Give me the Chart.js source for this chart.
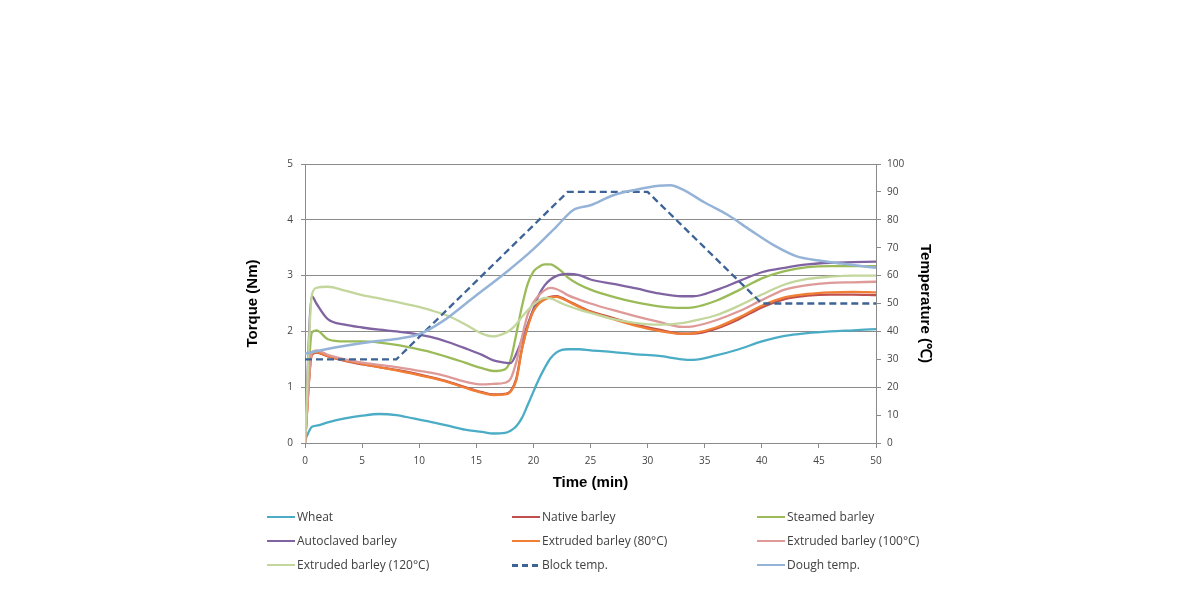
<!DOCTYPE html>
<html>
<head>
<meta charset="utf-8">
<script src="https://cdn.jsdelivr.net/npm/chart.js@4.4.1/dist/chart.umd.min.js"></script>
<style>
  html, body { margin: 0; padding: 0; background: #ffffff; }
  #wrap { position: relative; width: 1190px; height: 589px; overflow: hidden; }
  #c { position: absolute; left: 0; top: 0; }
  .lg { position: absolute; font-family: "Open Sans", "DejaVu Sans", sans-serif; font-size: 12px; color: #404040; white-space: nowrap; line-height: 16px; }
  .lg .ln { position: absolute; left: 0; top: 7px; width: 28px; height: 0; border-top: 2.5px solid; }
  .lg .tx { position: absolute; left: 30px; top: 0; }
</style>
</head>
<body>
<div id="wrap">
  <canvas id="c" width="1190" height="589"></canvas>
  <div id="legend"></div>
</div>
<script>
// ---------- data ----------
const times = [0, 0.6, 1, 2, 3.5, 5, 6.5, 8, 9.5, 11, 12.5, 14, 15.5, 16.5, 17.5, 18, 18.5, 19, 19.5, 20, 20.5, 21, 21.5, 22, 22.5, 23, 24, 25, 27, 29, 31, 33, 34, 36, 38, 40, 42, 44, 46, 48, 50];

const wheat      = [0.05, 0.29, 0.31, 0.37, 0.44, 0.49, 0.52, 0.50, 0.44, 0.38, 0.31, 0.24, 0.20, 0.17, 0.18, 0.22, 0.30, 0.45, 0.68, 0.92, 1.15, 1.35, 1.52, 1.62, 1.67, 1.68, 1.68, 1.66, 1.63, 1.59, 1.56, 1.50, 1.49, 1.57, 1.68, 1.82, 1.92, 1.97, 2.00, 2.02, 2.04];
const native     = [0.00, 1.58, 1.62, 1.55, 1.47, 1.41, 1.36, 1.31, 1.25, 1.18, 1.10, 1.00, 0.91, 0.87, 0.88, 0.93, 1.15, 1.70, 2.10, 2.38, 2.52, 2.58, 2.62, 2.63, 2.60, 2.55, 2.45, 2.36, 2.24, 2.12, 2.03, 1.96, 1.96, 2.05, 2.22, 2.43, 2.58, 2.64, 2.66, 2.66, 2.65];
const steamed    = [0.00, 1.98, 2.02, 1.86, 1.82, 1.82, 1.80, 1.76, 1.70, 1.63, 1.54, 1.44, 1.34, 1.29, 1.32, 1.49, 1.95, 2.45, 2.85, 3.07, 3.16, 3.20, 3.20, 3.15, 3.07, 2.97, 2.84, 2.75, 2.62, 2.52, 2.45, 2.42, 2.43, 2.55, 2.74, 2.95, 3.08, 3.15, 3.17, 3.17, 3.17];
const autoclaved = [0.00, 2.63, 2.50, 2.22, 2.12, 2.07, 2.03, 2.00, 1.96, 1.90, 1.81, 1.70, 1.58, 1.48, 1.44, 1.43, 1.60, 1.85, 2.12, 2.40, 2.66, 2.83, 2.93, 2.99, 3.02, 3.03, 3.01, 2.93, 2.85, 2.77, 2.68, 2.63, 2.63, 2.74, 2.90, 3.06, 3.14, 3.20, 3.23, 3.24, 3.25];
const extr80     = [0.00, 1.60, 1.63, 1.56, 1.48, 1.42, 1.36, 1.30, 1.24, 1.17, 1.09, 0.99, 0.90, 0.86, 0.87, 0.92, 1.12, 1.68, 2.08, 2.36, 2.50, 2.57, 2.61, 2.62, 2.59, 2.54, 2.44, 2.35, 2.22, 2.10, 2.01, 1.96, 1.97, 2.07, 2.25, 2.46, 2.61, 2.67, 2.70, 2.71, 2.70];
const extr100    = [0.00, 1.62, 1.66, 1.58, 1.50, 1.44, 1.40, 1.36, 1.31, 1.26, 1.19, 1.10, 1.05, 1.06, 1.08, 1.15, 1.45, 1.90, 2.30, 2.52, 2.65, 2.74, 2.78, 2.76, 2.71, 2.65, 2.57, 2.50, 2.38, 2.27, 2.17, 2.08, 2.09, 2.20, 2.36, 2.56, 2.75, 2.83, 2.87, 2.88, 2.89];
const extr120    = [0.00, 2.65, 2.78, 2.80, 2.73, 2.65, 2.59, 2.53, 2.46, 2.38, 2.28, 2.13, 1.96, 1.91, 1.97, 2.03, 2.13, 2.26, 2.38, 2.48, 2.56, 2.60, 2.59, 2.55, 2.50, 2.46, 2.39, 2.33, 2.22, 2.15, 2.12, 2.15, 2.19, 2.29, 2.46, 2.66, 2.84, 2.94, 2.98, 3.00, 3.00];

const blockTimes = [0, 8, 23, 30, 40, 50];
const blockTemp  = [30, 30, 90, 90, 50, 50];

const doughTimes = [0, 3, 6, 8, 10, 12, 14.7, 17.7, 20, 22, 23.5, 25, 27, 29, 31, 32, 33, 35, 37, 39, 41, 43, 45, 47, 50];
const doughTemp  = [32, 34.5, 36.4, 37.3, 39, 43.5, 52, 61.5, 69.5, 77.5, 83.5, 85.2, 88.8, 90.8, 92.2, 92.4, 91, 86.2, 81.8, 76.3, 71, 67, 65.4, 64.3, 62.8];

const timeTicks   = [0, 5, 10, 15, 20, 25, 30, 35, 40, 45, 50];
const torqueTicks = [0, 1, 2, 3, 4, 5];
const tempTicks   = [0, 10, 20, 30, 40, 50, 60, 70, 80, 90, 100];

const labels = ["Wheat", "Native barley", "Steamed barley", "Autoclaved barley", "Extruded barley (80°C)", "Extruded barley (100°C)", "Extruded barley (120°C)", "Block temp.", "Dough temp."];
const colors = ["#4bacc6", "#c0504d", "#9bbb59", "#8064a2", "#f07f35", "#dd9a98", "#c3d69b", "#3d6396", "#95b3d7"];

// ---------- build ----------
function pts(xs, ys) { return xs.map((x, i) => ({ x: x, y: ys[i] })); }
const torqueSeries = [wheat, native, steamed, autoclaved, extr80, extr100, extr120];

const datasets = torqueSeries.map((s, i) => ({
  label: labels[i],
  data: pts(times, s),
  borderColor: colors[i],
  borderWidth: 2.3,
  pointRadius: 0,
  cubicInterpolationMode: 'monotone',
  yAxisID: 'y',
  order: 20 - i
}));
datasets.push({
  label: labels[7], data: pts(blockTimes, blockTemp), borderColor: colors[7], borderWidth: 2.3,
  borderDash: [7, 4], pointRadius: 0, tension: 0, yAxisID: 'y2', order: 2
});
datasets.push({
  label: labels[8], data: pts(doughTimes, doughTemp), borderColor: colors[8], borderWidth: 2.5,
  pointRadius: 0, cubicInterpolationMode: 'monotone', yAxisID: 'y2', order: 1
});

const GRID = '#8a8a8a';
const tickFont = { family: '"Open Sans", "DejaVu Sans", sans-serif', size: 10 };
const titleFont = { family: '"Liberation Sans", Arial, sans-serif', size: 15, weight: 'bold', lineHeight: 1.2 };

new Chart(document.getElementById('c'), {
  type: 'line',
  data: { datasets },
  options: {
    responsive: false,
    animation: false,
    events: [],
    layout: { padding: { left: 244, right: 256, top: 164, bottom: 97 } },
    plugins: { legend: { display: false }, tooltip: { enabled: false } },
    scales: {
      x: {
        type: 'linear', min: 0, max: 50,
        afterBuildTicks: (s) => { s.ticks = timeTicks.map(v => ({ value: v })); },
        afterFit: (s) => { s.height = 49; },
        ticks: { font: tickFont, color: '#444444', padding: 7, maxRotation: 0 },
        grid: { drawOnChartArea: false, drawTicks: true, tickLength: 5, color: GRID },
        border: { display: true, color: GRID },
        title: { display: true, text: 'Time (min)', font: titleFont, color: '#000000', padding: { top: 0, bottom: 0 } }
      },
      y: {
        position: 'left', min: 0, max: 5,
        afterBuildTicks: (s) => { s.ticks = torqueTicks.map(v => ({ value: v })); },
        afterFit: (s) => { s.width = 61; },
        ticks: { font: tickFont, color: '#444444', padding: 8 },
        grid: { drawOnChartArea: true, drawTicks: true, tickLength: 4, color: GRID },
        border: { display: true, color: GRID },
        title: { display: true, text: 'Torque (Nm)', font: titleFont, color: '#000000', padding: { top: 0, bottom: 0 } }
      },
      y2: {
        position: 'right', min: 0, max: 100,
        afterBuildTicks: (s) => { s.ticks = tempTicks.map(v => ({ value: v })); },
        afterFit: (s) => { s.width = 58; },
        ticks: { font: tickFont, color: '#444444', padding: 6 },
        grid: { drawOnChartArea: false, drawTicks: true, tickLength: 5, color: GRID },
        border: { display: true, color: GRID },
        title: { display: true, text: 'Temperature (℃)', font: titleFont, color: '#000000', padding: { top: 0, bottom: 0 } }
      }
    }
  }
});

// ---------- legend (HTML text) ----------
const colX = [267, 512, 757];
const rowY = [509, 533, 557];
const lg = document.getElementById('legend');
labels.forEach((lab, i) => {
  const d = document.createElement('div');
  d.className = 'lg';
  d.style.left = colX[i % 3] + 'px';
  d.style.top = rowY[Math.floor(i / 3)] + 'px';
  const ln = document.createElement('span');
  ln.className = 'ln';
  ln.style.borderTopColor = colors[i];
  if (i === 7) { ln.style.borderTopStyle = 'dashed'; ln.style.borderTopWidth = '3px'; ln.style.width = '26px'; }
  const tx = document.createElement('span');
  tx.className = 'tx';
  tx.textContent = lab;
  d.appendChild(ln); d.appendChild(tx);
  lg.appendChild(d);
});
</script>
</body>
</html>
